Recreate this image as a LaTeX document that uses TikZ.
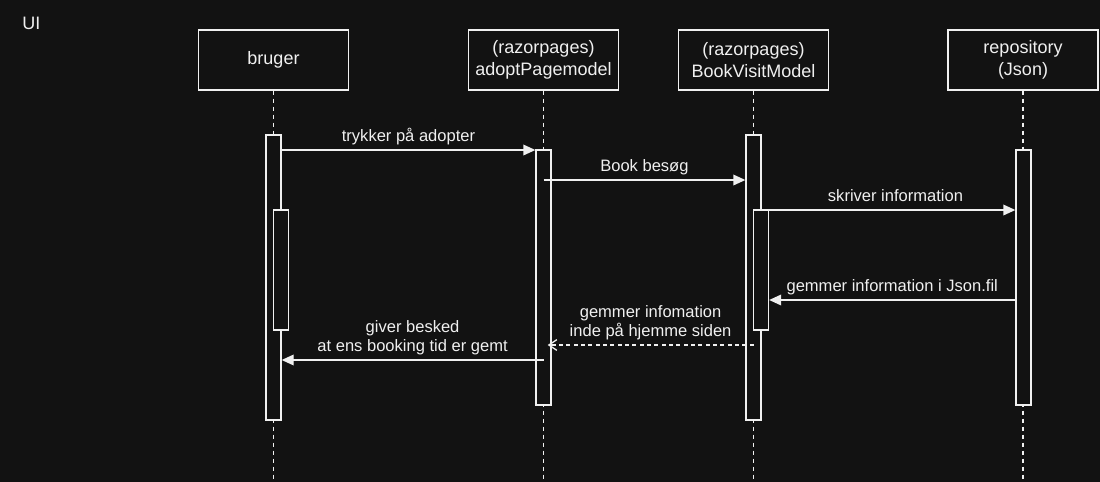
\documentclass[tikz,border=0pt]{standalone}
\usepackage{fontspec}
\setmainfont{Liberation Sans}
\usetikzlibrary{arrows.meta,calc}
\definecolor{bgc}{HTML}{121212}
\definecolor{fg}{HTML}{F0F0F0}
\begin{document}
\begin{tikzpicture}[x=0.75pt,y=-0.75pt,
 every node/.style={text=fg},
 actor/.style={draw=fg, line width=1pt, fill=bgc, minimum width=112.5pt, minimum height=45pt, align=center, font=\fontsize{13.5}{16}\selectfont, inner sep=0pt},
 actbar/.style={draw=fg, line width=1pt, fill=bgc, minimum width=11.25pt, inner sep=0pt},
 lifeline/.style={draw=fg, line width=1pt, dash pattern=on 3pt off 3pt},
 msg/.style={draw=fg, line width=1pt, -{Triangle[length=9pt,width=8pt]}},
 reply/.style={draw=fg, line width=1pt, dash pattern=on 3pt off 2.5pt, -{Straight Barb[length=6pt,width=8pt]}},
 lbl/.style={font=\fontsize{12.4}{14.25}\selectfont, align=center, inner sep=0pt, text depth=2.7pt, above=3.3pt}
]
\useasboundingbox[fill=bgc] (0,0) rectangle (1100,482);
\node[anchor=base west, font=\fontsize{13.5}{16}\selectfont, inner sep=0pt] (ui) at (22,29) {UI};
% actors
\node[actor] (bruger) at (273.5,60) {bruger};
\node[actor] (adopt) at (543.5,60) {(razorpages)\\adoptPagemodel};
\node[actor] (book) at (753.5,60) {(razorpages)\\BookVisitModel};
\node[actor] (repo) at (1023,60) {repository\\(Json)};
% lifelines
\coordinate (bot) at (0,482);
\draw[lifeline] (bruger.south) -- (bruger.south |- bot);
\draw[lifeline] (adopt.south) -- (adopt.south |- bot);
\draw[lifeline] (book.south) -- (book.south |- bot);
\draw[lifeline] (repo.south) -- (repo.south |- bot);
% activation bars
\node[actbar, minimum height=213.75pt] (bb) at (273.5,277.5) {};
\node[actbar, minimum height=191.25pt] (ab) at (543.5,277.5) {};
\node[actbar, minimum height=213.75pt] (vb) at (753.5,277.5) {};
\node[actbar, minimum height=191.25pt] (rb) at (1023.5,277.5) {};
\node[actbar, minimum height=90pt] (bi) at (281,270) {};
\node[actbar, minimum height=90pt] (vi) at (761,270) {};
% messages
\coordinate (m1) at (0,150);
\coordinate (m2) at (0,180);
\coordinate (m3) at (0,210);
\coordinate (m4) at (0,300);
\coordinate (m5) at (0,345);
\coordinate (m6) at (0,360);
\draw[msg] (bb.east |- m1) -- node[lbl] {trykker på adopter} (ab.west |- m1);
\draw[msg] (ab.center |- m2) -- node[lbl] {Book besøg} (vb.west |- m2);
\draw[msg] (vb.east |- m3) -- node[lbl, xshift=5.25pt] {skriver information} (rb.west |- m3);
\draw[msg] (rb.west |- m4) -- node[lbl] {gemmer information i Json.fil} (vi.east |- m4);
\draw[reply] (vb.center |- m5) -- node[lbl] {gemmer infomation\\inde på hjemme siden} ($(ab.east |- m5)+(-4,0)$);
\draw[msg] (ab.center |- m6) -- node[lbl] {giver besked\\at ens booking tid er gemt} (bb.east |- m6);
\end{tikzpicture}
\end{document}
